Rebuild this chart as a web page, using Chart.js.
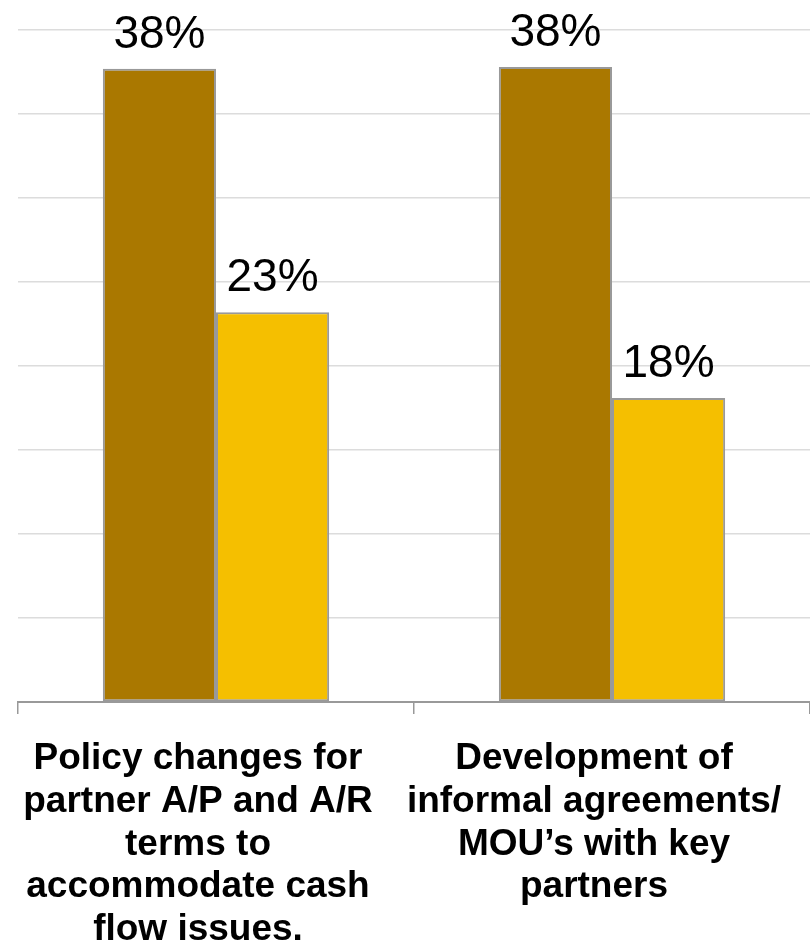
<!DOCTYPE html>
<html>
<head>
<meta charset="utf-8">
<script src="https://cdn.jsdelivr.net/npm/chart.js@4"></script>
<style>
  html, body { margin: 0; padding: 0; background: #fff; }
  #wrap { width: 810px; height: 949px; }
</style>
</head>
<body>
<div id="wrap"><canvas id="StrategyChart"></canvas></div>
<script>
// categories (multi-line labels) and the two series, in percent
const categories = [
    ['Policy changes for', 'partner A/P and A/R', 'terms to', 'accommodate cash', 'flow issues.'],
    ['Development of', 'informal agreements/', 'MOU\u2019s with key', 'partners']
];
const seriesA = [37.7, 37.8];
const seriesB = [23.2, 18.1];
const yTicks = { min: 0, max: 40, step: 5 };

// writes "NN%" above every bar
const barValueLabels = {
    id: 'barValueLabels',
    afterDatasetsDraw(chart) {
        const ctx = chart.ctx;
        ctx.save();
        ctx.font = '46px "Liberation Sans", Arial, sans-serif';
        ctx.fillStyle = '#000';
        ctx.textAlign = 'center';
        ctx.textBaseline = 'alphabetic';
        chart.data.datasets.forEach(function(ds, i) {
            chart.getDatasetMeta(i).data.forEach(function(bar, j) {
                ctx.fillText(Math.round(ds.data[j]) + '%', bar.x, bar.y - 21);
            });
        });
        ctx.restore();
    }
};

let myChart = document.getElementById('StrategyChart').getContext('2d');
let strategyChart = new Chart(myChart, {
    type: 'bar',
    data: {
        labels: categories,
        datasets: [{
            label: 'Series 1',
            data: seriesA,
            backgroundColor: '#aa7800',
            borderColor: '#999999',
            borderWidth: 2,
            borderSkipped: false
        },
        {
            label: 'Series 2',
            data: seriesB,
            backgroundColor: '#f5bf00',
            borderColor: '#999999',
            borderWidth: 2,
            borderSkipped: false
        }]
    },
    options: {
        responsive: true,
        maintainAspectRatio: false,
        animation: false,
        datasets: {
            bar: {
                categoryPercentage: 2 / 3.5,
                barPercentage: 1
            }
        },
        layout: {
            padding: { left: 18, top: 30, right: 0, bottom: 0 }
        },
        scales: {
            x: {
                // fixed band under the plot; labels may run to the page edge
                afterFit: function(scale) {
                    scale.height = 247;
                    scale.paddingLeft = 0;
                    scale.paddingRight = 0;
                },
                grid: {
                    drawOnChartArea: false,
                    color: '#999999',
                    lineWidth: 1.5,
                    tickLength: 12
                },
                border: { color: '#999999', width: 2 },
                ticks: {
                    color: '#000',
                    maxRotation: 0,
                    autoSkip: false,
                    padding: 23,
                    labelOffset: -18,
                    font: {
                        family: '"Liberation Sans", Arial, sans-serif',
                        size: 37,
                        weight: 'bold',
                        lineHeight: 1.16
                    }
                }
            },
            y: {
                min: yTicks.min,
                max: yTicks.max,
                grid: {
                    color: '#dcdcdc',
                    lineWidth: 1.5,
                    drawTicks: false
                },
                border: { display: false },
                ticks: { display: false, stepSize: yTicks.step }
            }
        },
        plugins: {
            legend: { display: false },
            tooltip: { enabled: false }
        }
    },
    plugins: [barValueLabels]
});
</script>
</body>
</html>
